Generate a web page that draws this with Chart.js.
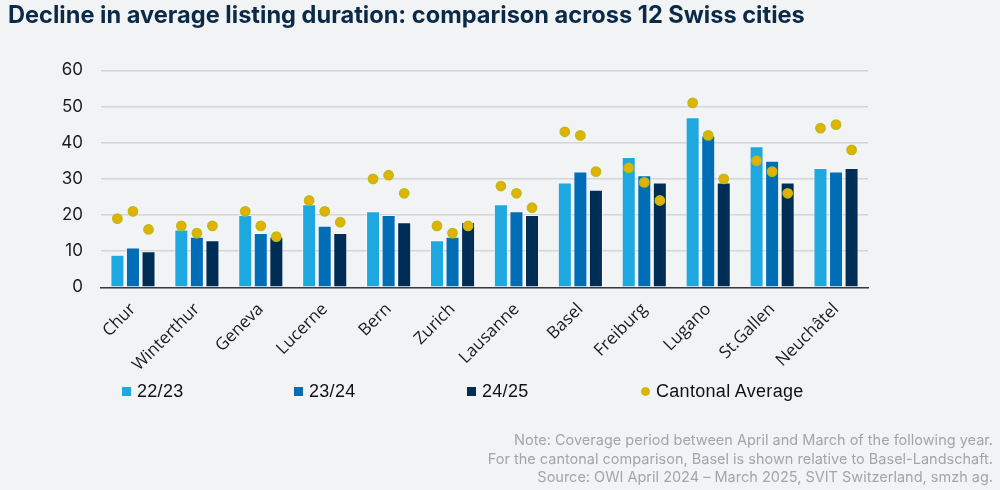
<!DOCTYPE html>
<html><head><meta charset="utf-8">
<script src="https://cdn.jsdelivr.net/npm/chart.js@4"></script>
<style>
html,body{margin:0;padding:0;background:#f2f3f5;}
#wrap{position:relative;width:1000px;height:490px;}
#legend{position:absolute;left:0;top:381px;height:20px;width:1000px;font-family:"Liberation Sans",Arial,sans-serif;font-size:18px;color:#111;letter-spacing:0.3px;}
.li{position:absolute;top:0;display:flex;align-items:center;height:20px;white-space:nowrap;}
.mk{width:9px;height:9px;margin-right:6px;box-sizing:border-box;}
</style></head><body>
<div id="wrap"><canvas id="c" width="1000" height="490"></canvas><div id="legend"></div></div>
<script>
const titleText = 'Decline in average listing duration: comparison across 12 Swiss cities';
const noteLines = [
  'Note: Coverage period between April and March of the following year.',
  'For the cantonal comparison, Basel is shown relative to Basel-Landschaft.',
  'Source: OWI April 2024 \u2013 March 2025, SVIT Switzerland, smzh ag.'
];
const cities = ['Chur','Winterthur','Geneva','Lucerne','Bern','Zurich','Lausanne','Basel','Freiburg','Lugano','St.Gallen','Neuch\u00e2tel'];
const seriesNames = ['22/23','23/24','24/25'];
const avgName = 'Cantonal Average';
const v2223 = [9,16,20,23,21,13,23,29,36,47,39,33];
const v2324 = [11,14,15,17,20,14,21,32,31,42,35,32];
const v2425 = [10,13,14,15,18,18,20,27,29,29,29,33];
const avg2223 = [19,17,21,24,30,17,28,43,33,51,35,44];
const avg2324 = [21,15,17,21,31,15,26,42,29,42,32,45];
const avg2425 = [16,17,14,18,26,17,22,32,24,30,26,38];
const yTicks = [0,10,20,30,40,50,60];

const barColors = ['#1fa7e0','#006db7','#002d55'];
const dotFill = '#e6b000', dotBorder = '#bcbc12';
const CAT = 0.73, BAR = 0.9;
const groupOffsets = [-CAT/3, 0, CAT/3];

const barValues = [v2223, v2324, v2425];
const avgValues = [avg2223, avg2324, avg2425];
const dotPoints = [];
avgValues.forEach((arr,k)=>arr.forEach((v,i)=>dotPoints.push({x:i+groupOffsets[k], y:v})));

const datasets = barValues.map((vals,k)=>({
  type:'bar', label:seriesNames[k], data:vals.map((v,i)=>({x:i, y:v})), backgroundColor:barColors[k],
  borderColor:'rgba(255,255,255,0.45)', borderWidth:1, borderSkipped:'bottom',
  categoryPercentage:CAT, barPercentage:BAR, order:1
}));
datasets.push({
  type:'scatter', label:avgName, data:dotPoints,
  pointRadius:4.6, pointHoverRadius:4.6, pointBorderWidth:1.6,
  backgroundColor:dotFill, borderColor:dotBorder, showLine:false, order:0
});

const chart = new Chart(document.getElementById('c'), {
  type:'bar',
  data:{datasets},
  options:{
    responsive:false, animation:false, devicePixelRatio:1,
    layout:{padding:{left:8,right:7,top:0,bottom:0}},
    plugins:{
      legend:{display:false}, tooltip:{enabled:false},
      title:{display:true, text:titleText, align:'start', color:'#0b2a47',
        font:{family:'Inter', weight:'700', size:23.6, lineHeight:1.2}, padding:{top:2,bottom:40}},
      subtitle:{display:true, text:noteLines, position:'bottom', align:'end', color:'#a5a5a5',
        font:{family:'Inter', size:14.5, lineHeight:1.28}, padding:{top:0,bottom:3}}
    },
    scales:{
      x:{type:'linear', position:'bottom', offset:false, min:-0.5, max:11.5,
        afterBuildTicks:s=>{s.ticks=cities.map((c,i)=>({value:i}));},
        grid:{display:false, drawTicks:false},
        border:{display:true, color:'#3a3a3a', width:1.5},
        ticks:{minRotation:45, maxRotation:45, autoSkip:false, padding:12, color:'#1a1a1a',
          font:{family:'Open Sans', size:17}, callback:v=>cities[v]},
        afterFit:s=>{s.height=144;}},
      y:{type:'linear', position:'left', min:0, max:60,
        afterBuildTicks:s=>{s.ticks=yTicks.map(v=>({value:v}));},
        grid:{color:'#d3d5d9', lineWidth:1.5, drawTicks:false},
        border:{display:false},
        ticks:{padding:18, color:'#1c1c1c', font:{family:'Inter', size:17}},
        afterFit:s=>{s.width=93;}},
      y2:{type:'linear', position:'right', display:true,
        grid:{display:false, drawTicks:false}, border:{display:false},
        ticks:{display:false}, afterFit:s=>{s.width=125;}}
    }
  }
});

// HTML legend built from chart datasets
const legendX = [122, 294, 467, 641];
const lg = document.getElementById('legend');
chart.data.datasets.forEach((ds,i)=>{
  const item = document.createElement('div');
  item.className='li'; item.style.left = legendX[i]+'px';
  const mk = document.createElement('span'); mk.className='mk';
  if (ds.type==='scatter'){
    mk.style.borderRadius='50%'; mk.style.background=ds.backgroundColor;
    mk.style.border='1.5px solid '+ds.borderColor;
  } else { mk.style.background=ds.backgroundColor; }
  const tx = document.createElement('span'); tx.textContent = ds.label;
  item.appendChild(mk); item.appendChild(tx); lg.appendChild(item);
});
</script>
</body></html>
